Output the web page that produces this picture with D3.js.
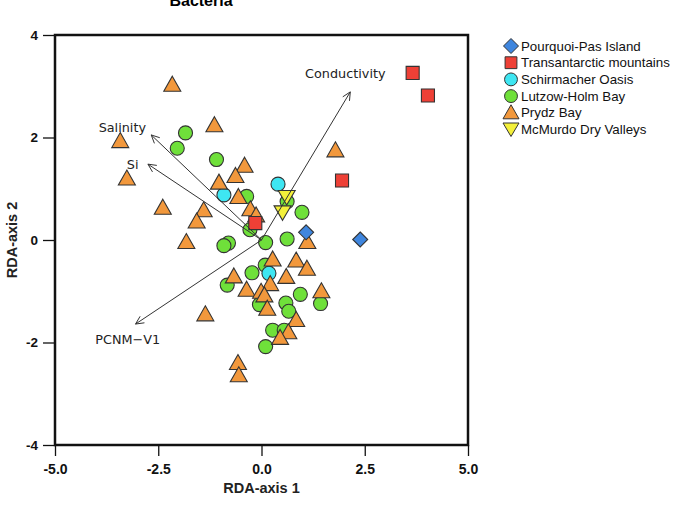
<!DOCTYPE html>
<html>
<head>
<meta charset="utf-8">
<script src="https://d3js.org/d3.v7.min.js"></script>
<style>
  body { margin: 0; background: #fff; }
  svg { display: block; }
</style>
</head>
<body>
<svg id="chart" width="681" height="507"></svg>
<script>
// group names, shapes and colours
const groups = ["Pourquoi-Pas Island", "Transantarctic mountains", "Schirmacher Oasis",
                "Lutzow-Holm Bay", "Prydz Bay", "McMurdo Dry Valleys"];
const groupShapes = ["diamond", "square", "circle", "circle", "triangle", "triangleDown"];
const groupColors = ["#3f86de", "#ee4036", "#3ee6f2", "#6fe03a", "#f2983c", "#f4f03a"];

// site scores [RDA1, RDA2] per group
const pourquoiPas = [[1.08, 0.15], [2.39, 0.01]];
const transantarctic = [[3.66, 3.26], [4.03, 2.82], [1.95, 1.16], [-0.15, 0.33]];
const schirmacher = [[-0.91, 0.88], [0.40, 1.09], [0.18, -0.65]];
const lutzowHolm = [
  [-1.84, 2.09], [-2.04, 1.79], [-1.09, 1.57], [-0.36, 0.85], [0.62, 0.75], [0.98, 0.54],
  [-0.28, 0.20], [0.10, -0.05], [0.62, 0.02], [-0.80, -0.06], [-0.91, -0.11], [0.09, -0.49],
  [-0.23, -0.64], [-0.83, -0.88], [0.94, -1.06], [1.43, -1.24], [-0.05, -1.26], [0.59, -1.23],
  [0.66, -1.39], [0.27, -1.76], [0.55, -1.76], [0.10, -2.08]
];
const prydz = [
  [-2.16, 3.02], [-1.14, 2.23], [-3.42, 1.92], [-3.26, 1.19], [-0.41, 1.44], [-0.63, 1.24],
  [-1.03, 1.11], [-0.56, 0.83], [-2.39, 0.62], [-1.40, 0.57], [-1.57, 0.35], [-0.27, 0.59],
  [-0.13, 0.47], [-1.82, -0.05], [1.11, -0.05], [1.79, 1.74], [0.27, -0.39], [0.84, -0.41],
  [1.10, -0.57], [-0.67, -0.72], [0.60, -0.73], [0.21, -0.87], [-0.36, -0.98], [-0.01, -1.02],
  [0.07, -1.09], [1.45, -1.01], [0.14, -1.35], [-1.36, -1.46], [0.84, -1.57], [0.65, -1.81],
  [0.45, -1.92], [-0.57, -2.41], [-0.55, -2.65]
];
const mcmurdo = [[0.61, 0.84], [0.51, 0.54]];
const groupPoints = [pourquoiPas, transantarctic, schirmacher, lutzowHolm, prydz, mcmurdo];
// drawing order (index into groups), bottom to top
const drawOrder = [3, 2, 4, 1, 5, 0];

// environmental vectors: arrow tip and label anchor
const vectorNames = ["Conductivity", "Salinity", "Si", "PCNM\u2212V1"];
const vectorTips = [[2.15, 2.89], [-2.67, 2.05], [-2.75, 1.48], [-3.05, -1.64]];
const vectorLabels = [[2.03, 3.24], [-3.37, 2.19], [-3.12, 1.48], [-3.24, -1.95]];

const xTicks = [-5, -2.5, 0, 2.5, 5];
const yTicks = [-4, -2, 0, 2, 4];

const svg = d3.select("svg#chart");
const mLeft = 55, mRight = 468, mTop = 35, mBottom = 445;

const x = d3.scaleLinear().domain([-5, 5]).range([mLeft, mRight]);
const y = d3.scaleLinear().domain([-4, 4]).range([mBottom, mTop]);

const tickFont = "'Liberation Sans', Arial, sans-serif";
const hyphen = f => d => f(d).replace("\u2212", "-");

// title (cut off at top in the original)
svg.append("text")
  .attr("x", 201).attr("y", 6)
  .attr("text-anchor", "middle")
  .attr("font-family", tickFont).attr("font-weight", "bold").attr("font-size", 16)
  .text("Bacteria");

// axes
const xAxis = svg.append("g")
  .attr("transform", `translate(0,${mBottom})`)
  .call(d3.axisBottom(x).tickValues(xTicks).tickFormat(hyphen(d3.format(".1f"))).tickSize(11).tickPadding(8));
const yAxis = svg.append("g")
  .attr("transform", `translate(${mLeft},0)`)
  .call(d3.axisLeft(y).tickValues(yTicks).tickFormat(hyphen(d3.format("d"))).tickSize(12).tickPadding(5));
[xAxis, yAxis].forEach(g => {
  g.select(".domain").remove();
  g.selectAll("line").attr("stroke", "#111").attr("stroke-width", 1.3);
  g.selectAll("text").attr("font-family", tickFont).attr("font-weight", "bold")
    .attr("font-size", 14).attr("fill", "#111");
});
yAxis.selectAll("text").attr("font-size", 13.5);

svg.append("text")
  .attr("x", (mLeft + mRight) / 2).attr("y", 493)
  .attr("text-anchor", "middle")
  .attr("font-family", tickFont).attr("font-weight", "bold").attr("font-size", 14.5)
  .attr("fill", "#222")
  .text("RDA-axis 1");
svg.append("text")
  .attr("transform", `translate(17,${(mTop + mBottom) / 2}) rotate(-90)`)
  .attr("text-anchor", "middle")
  .attr("font-family", tickFont).attr("font-weight", "bold").attr("font-size", 14.5)
  .attr("fill", "#222")
  .text("RDA-axis 2");

// marker shapes
function shapePath(shape) {
  if (shape === "circle") return d3.symbol(d3.symbolCircle, 155)();
  if (shape === "square") return d3.symbol(d3.symbolSquare, 170)();
  if (shape === "diamond") return "M0,-7.5L7.5,0L0,7.5L-7.5,0Z";
  if (shape === "triangle") return "M0,-9L8.5,6L-8.5,6Z";
  return "M0,8L8.5,-6.5L-8.5,-6.5Z";
}

const plot = svg.append("g");
drawOrder.forEach(gi => {
  plot.selectAll(null).data(groupPoints[gi]).join("path")
    .attr("d", shapePath(groupShapes[gi]))
    .attr("transform", d => `translate(${x(d[0])},${y(d[1])})`)
    .attr("fill", groupColors[gi])
    .attr("stroke", "#333")
    .attr("stroke-width", 1.1);
});

// biplot arrows
const arrows = svg.append("g").attr("fill", "none").attr("stroke", "#333").attr("stroke-width", 1);
vectorTips.forEach((t, i) => {
  const x0 = x(0), y0 = y(0), x1 = x(t[0]), y1 = y(t[1]);
  const a = Math.atan2(y1 - y0, x1 - x0);
  const h = 9, spread = Math.PI / 7;
  arrows.append("line").attr("x1", x0).attr("y1", y0).attr("x2", x1).attr("y2", y1);
  arrows.append("path")
    .attr("d", `M${x1 - h * Math.cos(a - spread)},${y1 - h * Math.sin(a - spread)}L${x1},${y1}L${x1 - h * Math.cos(a + spread)},${y1 - h * Math.sin(a + spread)}`);
});
svg.append("g").selectAll("text").data(vectorNames).join("text")
  .attr("x", (d, i) => x(vectorLabels[i][0]))
  .attr("y", (d, i) => y(vectorLabels[i][1]))
  .attr("dy", "0.35em")
  .attr("text-anchor", "middle")
  .attr("font-family", "'DejaVu Sans', sans-serif")
  .attr("font-size", 12.8)
  .attr("fill", "#222")
  .text(d => d);

// frame
svg.append("rect")
  .attr("x", mLeft).attr("y", mTop)
  .attr("width", mRight - mLeft).attr("height", mBottom - mTop)
  .attr("fill", "none").attr("stroke", "#111").attr("stroke-width", 2.5);

// legend
const legend = svg.append("g").attr("transform", "translate(511,46)");
const rows = legend.selectAll("g").data(groups).join("g")
  .attr("transform", (d, i) => `translate(0,${i * 16.7})`);
rows.append("path")
  .attr("d", (d, i) => {
    const s = groupShapes[i];
    if (s === "circle") return d3.symbol(d3.symbolCircle, 130)();
    if (s === "square") return d3.symbol(d3.symbolSquare, 140)();
    if (s === "diamond") return "M0,-7.5L7.5,0L0,7.5L-7.5,0Z";
    if (s === "triangle") return "M0,-8L8,6L-8,6Z";
    return "M0,7L8,-6.5L-8,-6.5Z";
  })
  .attr("fill", (d, i) => groupColors[i])
  .attr("stroke", "#333")
  .attr("stroke-width", 1);
rows.append("text")
  .attr("x", 10).attr("dy", "0.35em")
  .attr("font-family", tickFont).attr("font-size", 13.3)
  .attr("fill", "#111")
  .text(d => d);
</script>
</body>
</html>
